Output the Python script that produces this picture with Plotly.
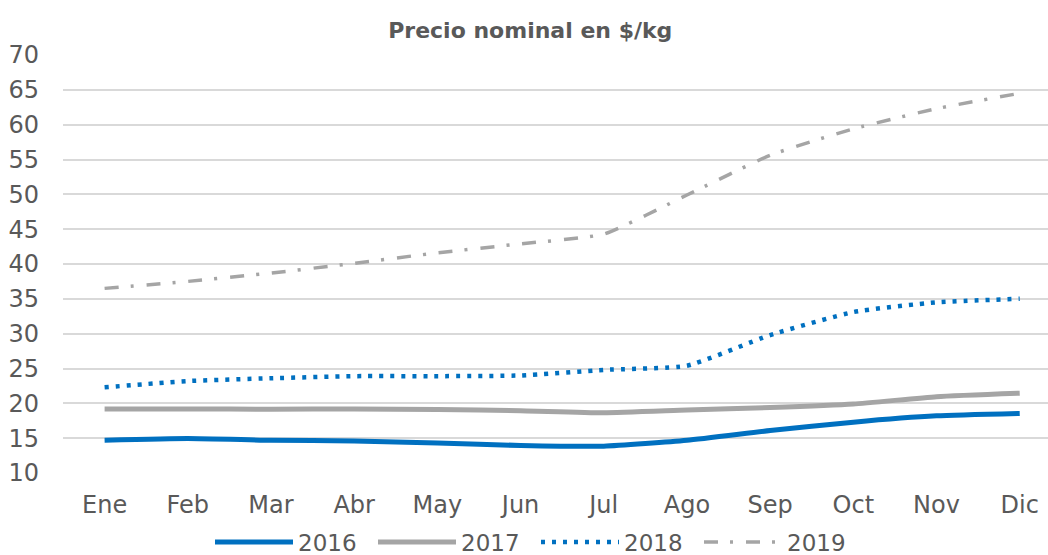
import plotly.graph_objects as go

months = ["Ene", "Feb", "Mar", "Abr", "May", "Jun", "Jul", "Ago", "Sep", "Oct", "Nov", "Dic"]
y2016 = [14.7, 14.95, 14.7, 14.6, 14.3, 13.95, 13.85, 14.7, 16.1, 17.3, 18.2, 18.55]
y2017 = [19.2, 19.2, 19.15, 19.2, 19.1, 18.95, 18.65, 19.05, 19.4, 19.9, 20.95, 21.45]
y2018 = [22.3, 23.2, 23.6, 23.9, 23.9, 24.0, 24.8, 25.4, 29.8, 33.1, 34.5, 35.0]
y2019 = [36.5, 37.5, 38.7, 40.1, 41.6, 42.9, 44.3, 49.9, 55.6, 59.4, 62.3, 64.5]
y_ticks = list(range(10, 75, 5))

FONT = "DejaVu Sans"
TXT = "#595959"

fig = go.Figure()
fig.add_trace(go.Scatter(x=months, y=y2016, name="2016", mode="lines",
                         line=dict(color="#0070C0", width=5, shape="spline", smoothing=0.5)))
fig.add_trace(go.Scatter(x=months, y=y2017, name="2017", mode="lines",
                         line=dict(color="#A5A5A5", width=5, shape="spline", smoothing=0.5)))
fig.add_trace(go.Scatter(x=months, y=y2018, name="2018", mode="lines",
                         line=dict(color="#0070C0", width=4.5, dash="4px,7px", shape="spline", smoothing=0.5)))
fig.add_trace(go.Scatter(x=months, y=y2019, name="2019", mode="lines",
                         line=dict(color="#A5A5A5", width=3.5, dash="14px,12px,3px,13px", shape="spline", smoothing=0.5)))

fig.update_layout(
    width=1048, height=555,
    margin=dict(l=63, r=0, t=55, b=82, autoexpand=False),
    paper_bgcolor="white", plot_bgcolor="white",
    font=dict(family=FONT, color=TXT, size=24),
    title=dict(text="<b>Precio nominal en $/kg</b>", x=0.506, xanchor="center",
               y=0.946, yanchor="middle", font=dict(size=22, color=TXT, family=FONT)),
    showlegend=True,
    legend=dict(orientation="h", x=(536 - 63) / 985, xanchor="center", y=-69 / 418, yanchor="middle",
                font=dict(size=23, color=TXT), itemwidth=78, entrywidth=70, traceorder="normal",
                bgcolor="rgba(0,0,0,0)"),
)
fig.update_xaxes(type="category", range=[-0.5, 11.34], showgrid=False, showline=False,
                 automargin=False, ticks="", ticklabelstandoff=15, tickfont=dict(size=24, color=TXT))
fig.update_yaxes(range=[10, 70], tickvals=y_ticks, showgrid=True, gridcolor="#D9D9D9",
                 gridwidth=1.5, zeroline=False, showline=False, ticks="", automargin=False,
                 ticklabelstandoff=23, tickfont=dict(size=24, color=TXT))

fig.write_html("out.html", config={"displayModeBar": False},
               post_script="document.body.style.margin='0';")
